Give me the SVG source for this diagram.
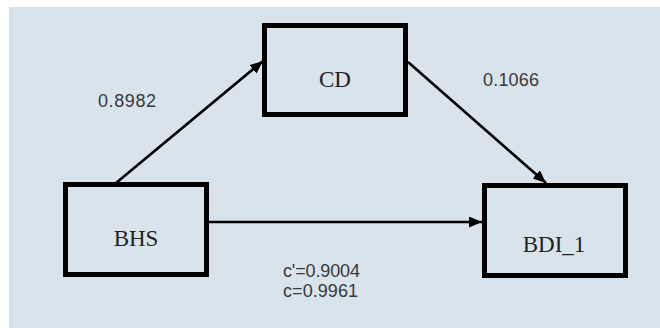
<svg xmlns="http://www.w3.org/2000/svg" width="660" height="328" viewBox="0 0 660 328">
<style>
.box{fill:none;stroke:#000;stroke-width:5}
.lbl{font-family:"Liberation Serif",serif;font-size:23px;fill:#222;text-anchor:middle}
.num{font-family:"Liberation Sans",Arial,sans-serif;font-size:18px;fill:#383838}
.edge{stroke:#000;stroke-width:2.6;fill:none;marker-end:url(#ah)}
</style>
<defs>
<marker id="ah" markerUnits="userSpaceOnUse" markerWidth="14" markerHeight="12" refX="13" refY="5.5" orient="auto">
<path d="M0,0 L13,5.5 L0,11 z" fill="#000"/>
</marker>
</defs>
<rect x="0" y="0" width="660" height="328" fill="#fff"/>
<rect x="9" y="7" width="651" height="321" fill="#d9e3ec"/>
<g id="connectors">
<line class="edge" x1="116" y1="183" x2="263" y2="61"/>
<line class="edge" x1="408" y1="62" x2="546" y2="183"/>
<line class="edge" x1="209" y1="222" x2="482" y2="222"/>
</g>
<g id="BHS">
<rect class="box" x="65.5" y="184.5" width="141" height="90"/>
<text class="lbl" x="136" y="246">BHS</text>
</g>
<g id="CD">
<rect class="box" x="264.5" y="25.5" width="141" height="89"/>
<text class="lbl" x="335" y="87">CD</text>
</g>
<g id="BDI_1">
<rect class="box" x="484.5" y="185.5" width="141" height="90"/>
<text class="lbl" x="554" y="252">BDI_1</text>
</g>
<g id="labels">
<text class="num" x="98" y="107" textLength="58">0.8982</text>
<text class="num" x="483" y="86" textLength="56">0.1066</text>
<text class="num" x="283" y="277" textLength="77">c'=0.9004</text>
<text class="num" x="283" y="297" textLength="75">c=0.9961</text>
</g>
</svg>
